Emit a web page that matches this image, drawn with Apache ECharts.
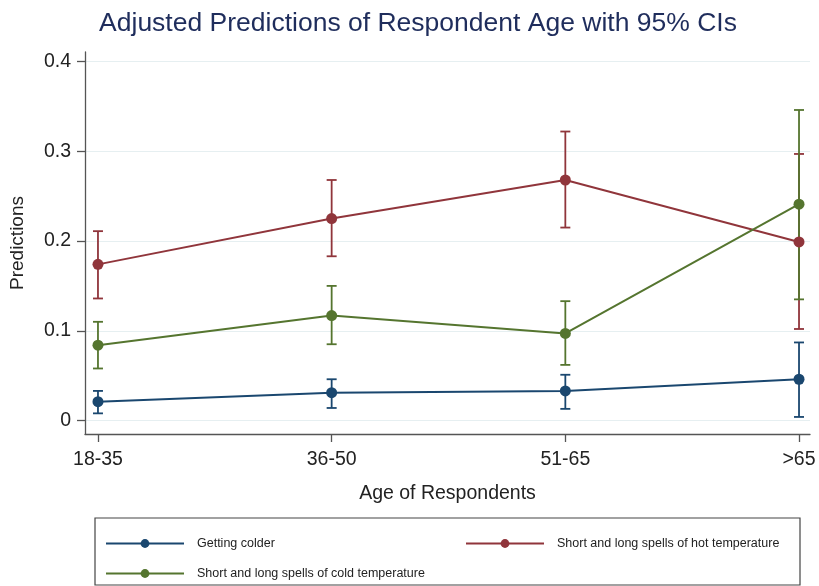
<!DOCTYPE html>
<html>
<head>
<meta charset="utf-8">
<script src="https://cdn.jsdelivr.net/npm/echarts@6/dist/echarts.min.js"></script>
<style>
  html, body { margin: 0; padding: 0; background: #fff; }
  #chart { width: 819px; height: 586px; }
</style>
</head>
<body>
<div id="chart"></div>
<script>
// Age groups along the horizontal axis
const ageGroups = ['18-35', '36-50', '51-65', '>65'];

// Predicted probabilities with 95% confidence limits
const colderPred = [0.021, 0.031, 0.033, 0.046];
const colderLow  = [0.008, 0.014, 0.013, 0.004];
const colderHigh = [0.033, 0.046, 0.051, 0.087];

const hotPred = [0.174, 0.225, 0.268, 0.199];
const hotLow  = [0.136, 0.183, 0.215, 0.102];
const hotHigh = [0.211, 0.268, 0.322, 0.297];

const coldPred = [0.084, 0.117, 0.097, 0.241];
const coldLow  = [0.058, 0.085, 0.062, 0.135];
const coldHigh = [0.110, 0.150, 0.133, 0.346];

// Vertical axis tick values and their labels
const yTickValues = [0, 0.1, 0.2, 0.3, 0.4];
const yTickLabels = ['0', '0.1', '0.2', '0.3', '0.4'];

const seriesNames = [
  'Getting colder',
  'Short and long spells of hot temperature',
  'Short and long spells of cold temperature'
];

const COLORS = ['#1a476f', '#90353b', '#55752f'];
const FONT = '"Liberation Sans", Arial, sans-serif';

const groups = [
  { name: seriesNames[0], pred: colderPred, low: colderLow, high: colderHigh, color: COLORS[0] },
  { name: seriesNames[1], pred: hotPred, low: hotLow, high: hotHigh, color: COLORS[1] },
  { name: seriesNames[2], pred: coldPred, low: coldLow, high: coldHigh, color: COLORS[2] }
];

// Capped vertical interval drawn from [x, low, high]
function ciRenderer(color) {
  return function (params, api) {
    const x = api.value(0);
    const lo = api.coord([x, api.value(1)]);
    const hi = api.coord([x, api.value(2)]);
    const w = 5;
    const style = { stroke: color, lineWidth: 1.8 };
    return {
      type: 'group',
      children: [
        { type: 'line', shape: { x1: lo[0], y1: lo[1], x2: hi[0], y2: hi[1] }, style },
        { type: 'line', shape: { x1: lo[0] - w, y1: lo[1], x2: lo[0] + w, y2: lo[1] }, style },
        { type: 'line', shape: { x1: hi[0] - w, y1: hi[1], x2: hi[0] + w, y2: hi[1] }, style }
      ]
    };
  };
}

const ciSeries = groups.map(g => ({
  type: 'custom',
  name: g.name + ' CI',
  renderItem: ciRenderer(g.color),
  data: g.low.map((v, i) => [i, v, g.high[i]]),
  encode: { x: 0, y: [1, 2] },
  silent: true,
  z: 2
}));

const lineSeries = groups.map(g => ({
  type: 'line',
  name: g.name,
  data: g.pred.map((v, i) => [i, v]),
  symbol: 'circle',
  symbolSize: 11,
  showSymbol: true,
  lineStyle: { color: g.color, width: 2 },
  itemStyle: { color: g.color },
  emphasis: { disabled: true },
  z: 3
}));

const legendText = { fontFamily: FONT, fontSize: 12.5, color: '#222', padding: [0, 0, 0, 8] };
function legendAt(name, left, top) {
  return {
    data: [name],
    left: left,
    top: top,
    itemWidth: 78,
    itemHeight: 11,
    selectedMode: false,
    textStyle: legendText
  };
}

const chart = echarts.init(document.getElementById('chart'), null, { renderer: 'canvas' });
chart.setOption({
  animation: false,
  backgroundColor: '#ffffff',
  title: {
    text: 'Adjusted Predictions of Respondent Age with 95% CIs',
    left: 413,
    top: 5,
    textAlign: 'center',
    textStyle: { fontFamily: FONT, fontSize: 26.5, fontWeight: 'normal', color: '#1f2d5c' }
  },
  grid: { left: 83, right: 9, top: 52, bottom: 152, containLabel: false },
  xAxis: {
    type: 'value',
    min: -0.0555,
    max: 3.047,
    name: 'Age of Respondents',
    nameLocation: 'middle',
    nameGap: 50,
    nameTextStyle: { fontFamily: FONT, fontSize: 19.5, color: '#222' },
    axisLine: { show: true, onZero: false, lineStyle: { color: '#555', width: 1.3 } },
    axisTick: { show: true, length: 8, customValues: [0, 1, 2, 3], lineStyle: { color: '#555', width: 1.3 } },
    axisLabel: {
      customValues: [0, 1, 2, 3],
      formatter: v => ageGroups[Math.round(v)],
      margin: 16,
      fontFamily: FONT,
      fontSize: 19.5,
      color: '#222'
    },
    splitLine: { show: false }
  },
  yAxis: {
    type: 'value',
    min: -0.015,
    max: 0.4106,
    name: 'Predictions',
    nameLocation: 'middle',
    nameGap: 58,
    nameRotate: 90,
    nameTextStyle: { fontFamily: FONT, fontSize: 19, color: '#222' },
    axisLine: { show: true, onZero: false, lineStyle: { color: '#555', width: 1.3 } },
    axisTick: { show: true, length: 8, customValues: yTickValues, lineStyle: { color: '#555', width: 1.3 } },
    axisLabel: {
      customValues: yTickValues,
      formatter: v => yTickLabels[yTickValues.indexOf(Math.round(v * 10) / 10)],
      margin: 14,
      fontFamily: FONT,
      fontSize: 19.5,
      color: '#222'
    },
    splitLine: { show: true, lineStyle: { color: '#e6eff1', width: 1.2 } }
  },
  legend: [
    legendAt(seriesNames[0], 100, 532),
    legendAt(seriesNames[1], 460, 532),
    legendAt(seriesNames[2], 100, 562)
  ],
  graphic: [{
    type: 'rect',
    shape: { x: 95, y: 518, width: 705, height: 67 },
    style: { fill: 'none', stroke: '#444', lineWidth: 1.2 },
    silent: true
  }],
  series: [...ciSeries, ...lineSeries]
});
</script>
</body>
</html>
